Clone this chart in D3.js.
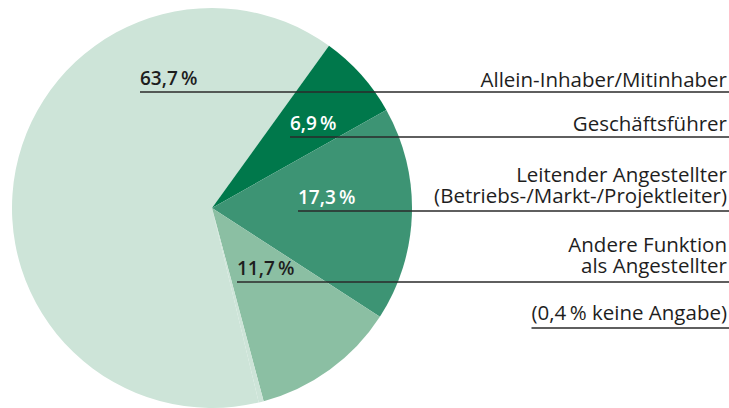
<!DOCTYPE html>
<html>
<head>
<meta charset="utf-8">
<script src="https://cdn.jsdelivr.net/npm/d3@7"></script>
<style>
  body { margin: 0; background: #fff; }
  svg { display: block; }
  text { font-family: "Open Sans", Lato, sans-serif; }
</style>
</head>
<body>
<div id="chart"></div>
<script>
// data
const categories = ["Allein-Inhaber/Mitinhaber", "Geschäftsführer", "Leitender Angestellter", "Andere Funktion als Angestellter", "keine Angabe"];
const values = [63.7, 6.9, 17.3, 11.7, 0.4];
const valueLabels = ["63,7\u2009%", "6,9\u2009%", "17,3\u2009%", "11,7\u2009%", "0,4\u2009%"];
const legendLines = [
  ["Allein-Inhaber/Mitinhaber"],
  ["Geschäftsführer"],
  ["Leitender Angestellter", "(Betriebs-/Markt-/Projektleiter)"],
  ["Andere Funktion", "als Angestellter"],
  ["(0,4\u2009% keine Angabe)"]
];

const width = 729, height = 408;
const colors = ["#cde4d8", "#00784b", "#3d9474", "#8bbfa3", "#cde4d8"];
const labelColors = ["#1e1e1e", "#ffffff", "#ffffff", "#1e1e1e"];

// leader line layout (label x, line y)
const layout = [
  {x: 140, y: 92},
  {x: 290, y: 137},
  {x: 298, y: 211},
  {x: 237, y: 282}
];

const svg = d3.select("#chart")
  .append("svg")
    .attr("width", width)
    .attr("height", height);

const cx = 212, cy = 208, radius = 200;

// light slice begins where 0,4 % ends; dark slice starts at ~35.8°
const start = (35.8 - 360 * (values[0] / 100)) * Math.PI / 180;
const pie = d3.pie().sort(null).startAngle(start).endAngle(start + 2 * Math.PI);
const arc = d3.arc().innerRadius(0).outerRadius(radius);

svg.append("g")
    .attr("transform", `translate(${cx},${cy})`)
  .selectAll("path")
  .data(pie(values))
  .join("path")
    .attr("d", arc)
    .attr("fill", (d, i) => colors[i]);

// leader lines
svg.append("g")
  .selectAll("line")
  .data(layout)
  .join("line")
    .attr("x1", d => d.x)
    .attr("x2", width)
    .attr("y1", d => d.y)
    .attr("y2", d => d.y)
    .attr("stroke", "#2a2a2a")
    .attr("stroke-width", 1.3);

// percent labels
svg.append("g")
  .selectAll("text")
  .data(layout)
  .join("text")
    .attr("x", d => d.x)
    .attr("y", d => d.y - 7)
    .attr("fill", (d, i) => labelColors[i])
    .style("font-size", "19px")
    .style("font-weight", 600)
    .text((d, i) => valueLabels[i]);

// category labels on the right (one text per label, lines as tspans)
const baselines = [86.5, 130.5, 181.5, 251.5, 320];
const legend = svg.append("g");
const labels = legend.selectAll("text")
  .data(legendLines)
  .join("text")
    .attr("x", 727)
    .attr("y", (d, i) => baselines[i])
    .attr("text-anchor", "end")
    .attr("fill", "#1e1e1e")
    .style("font-size", "20.5px");

labels.selectAll("tspan")
  .data(d => d)
  .join("tspan")
    .attr("x", 727)
    .attr("dy", (d, j) => j === 0 ? 0 : 21.5)
    .text(d => d);

// underline for keine Angabe
const bb = labels.nodes()[4].getBBox();
svg.append("line")
  .attr("x1", bb.x)
  .attr("x2", width)
  .attr("y1", 328)
  .attr("y2", 328)
  .attr("stroke", "#2a2a2a")
  .attr("stroke-width", 1.3);
</script>
</body>
</html>
